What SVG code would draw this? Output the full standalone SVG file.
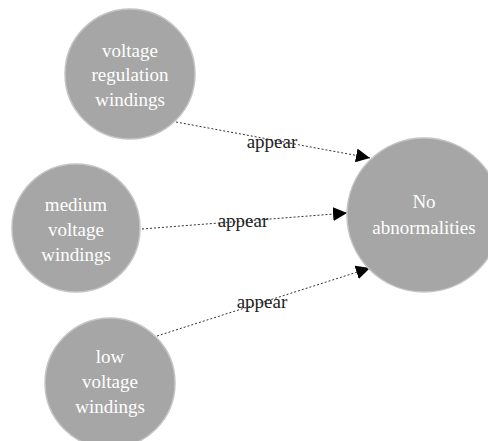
<svg xmlns="http://www.w3.org/2000/svg" width="488" height="441" viewBox="0 0 488 441">
<style>
.node circle{fill:#a6a6a6;stroke:#c4c4c4;stroke-width:1.5}
.t{font-family:"Liberation Serif","Times New Roman",Times,"Nimbus Roman","Nimbus Roman No9 L",Tinos,"Noto Serif","DejaVu Serif",FreeSerif,serif;font-size:19px}
.node text{fill:#ffffff;text-anchor:middle}
.edge{stroke:#333;stroke-width:1;stroke-dasharray:2,2;fill:none}
.lbl{fill:#222;text-anchor:middle}
</style>
<defs>
<marker id="arr" viewBox="0 0 10 10" refX="10" refY="5" markerWidth="14" markerHeight="14" markerUnits="userSpaceOnUse" orient="auto">
<path d="M0,0 L10,5 L0,10 Z" fill="#000"/>
</marker>
</defs>
<rect width="488" height="441" fill="#fff"/>
<g id="connectors">
<line class="edge" x1="176" y1="122" x2="370" y2="158" marker-end="url(#arr)"/>
<line class="edge" x1="142" y1="229" x2="347" y2="213" marker-end="url(#arr)"/>
<line class="edge" x1="157" y1="336" x2="370" y2="268" marker-end="url(#arr)"/>
<text class="t lbl" x="272" y="148">appear</text>
<text class="t lbl" x="243" y="227">appear</text>
<text class="t lbl" x="262" y="308">appear</text>
</g>
<g id="n1" class="node">
<circle cx="130" cy="74" r="65"/>
<text class="t" x="130" y="57">voltage</text>
<text class="t" x="130" y="81">regulation</text>
<text class="t" x="130" y="106">windings</text>
</g>
<g id="n2" class="node">
<circle cx="76" cy="228" r="64"/>
<text class="t" x="76" y="211">medium</text>
<text class="t" x="76" y="236">voltage</text>
<text class="t" x="76" y="261">windings</text>
</g>
<g id="n3" class="node">
<circle cx="110" cy="383" r="65"/>
<text class="t" x="110" y="363">low</text>
<text class="t" x="110" y="388">voltage</text>
<text class="t" x="110" y="413">windings</text>
</g>
<g id="n4" class="node">
<circle cx="424" cy="215" r="77"/>
<text class="t" x="424" y="208">No</text>
<text class="t" x="424" y="234">abnormalities</text>
</g>
</svg>
